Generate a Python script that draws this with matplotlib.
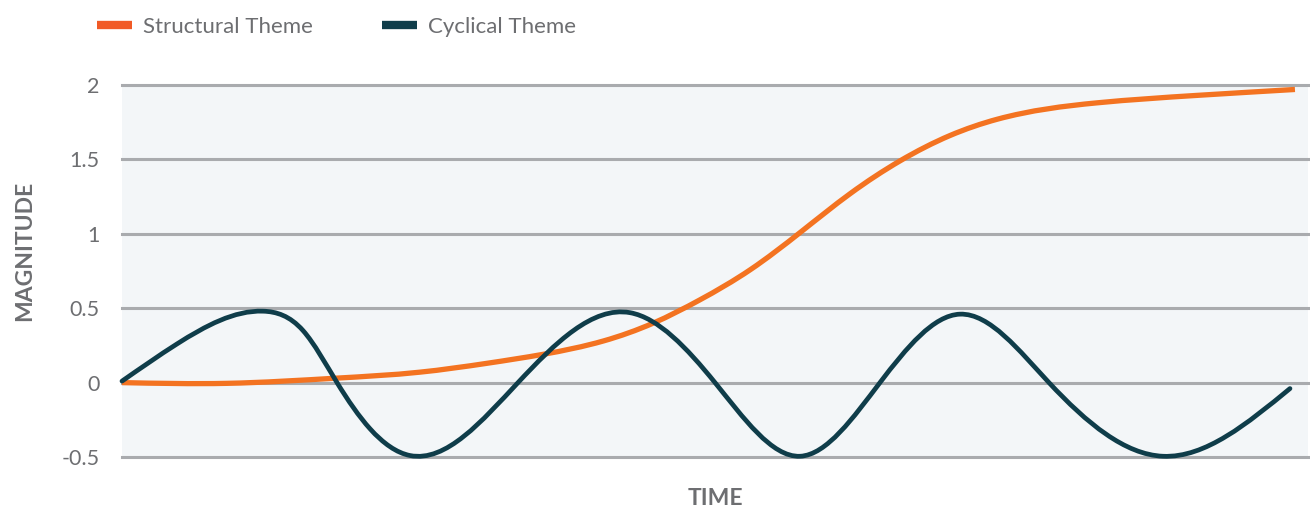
import matplotlib
matplotlib.use("Agg")
import matplotlib.pyplot as plt
from matplotlib.path import Path
from matplotlib.patches import PathPatch
from matplotlib.lines import Line2D
import numpy as np

# Time axis positions (arbitrary units, 0-100) and magnitudes of the two themes
cyc_time = [0, 4.64, 11.89, 15.26, 18.13, 20.91, 24.28, 33.39, 42.83, 50.0, 57.17,
            63.91, 70.66, 78.16, 87.77, 98.48]
cyc_value = [0.01, 0.26, 0.48, 0.35, 0.0, -0.31, -0.49, 0.0, 0.47, 0.0, -0.495,
             0.0, 0.46, 0.0, -0.495, -0.04]

str_time = [0, 8.85, 18.1, 25.1, 30.8, 35.5, 40.6, 44.8, 48.7, 53.0, 57.2,
            61.4, 65.6, 69.8, 73.8, 82.2, 90.6, 98.9]
str_value = [0.0, -0.005, 0.03, 0.07, 0.13, 0.19, 0.28, 0.40, 0.555, 0.76, 1.01,
             1.27, 1.49, 1.66, 1.77, 1.88, 1.93, 1.97]

series_names = ["Structural Theme", "Cyclical Theme"]
y_ticks = [-0.5, 0, 0.5, 1, 1.5, 2]
y_tick_labels = ["-0.5", "0", "0.5", "1", "1.5", "2"]

ORANGE = "#f37321"
ORANGE_KEY = "#f15a26"
TEAL = "#0f3d4a"
TEXT = "#6d6e71"
GRID = "#a9abae"
BG = "#f3f6f8"
FONT = ["Lato", "DejaVu Sans"]


def smooth_path(xs, ys):
    """Natural cubic spline through the points, expressed as a Bezier path."""
    x = np.asarray(xs, float)
    y = np.asarray(ys, float)
    n = len(x)
    h = np.diff(x)
    d = np.diff(y) / h
    # second derivatives with natural end conditions
    A = np.zeros((n, n))
    r = np.zeros(n)
    A[0, 0] = A[-1, -1] = 1.0
    for i in range(1, n - 1):
        A[i, i - 1] = h[i - 1]
        A[i, i] = 2 * (h[i - 1] + h[i])
        A[i, i + 1] = h[i]
        r[i] = 6 * (d[i] - d[i - 1])
    M = np.linalg.solve(A, r)
    verts = [(x[0], y[0])]
    codes = [Path.MOVETO]
    for i in range(n - 1):
        m0 = d[i] - h[i] * (2 * M[i] + M[i + 1]) / 6
        m1 = d[i] + h[i] * (M[i] + 2 * M[i + 1]) / 6
        verts += [(x[i] + h[i] / 3, y[i] + m0 * h[i] / 3),
                  (x[i + 1] - h[i] / 3, y[i + 1] - m1 * h[i] / 3),
                  (x[i + 1], y[i + 1])]
        codes += [Path.CURVE4] * 3
    return Path(verts, codes)


fig = plt.figure(figsize=(13.10, 5.09), dpi=100)
ax = fig.add_axes([122 / 1310, 1 - 457 / 509, (1308 - 122) / 1310, (457 - 85) / 509])
ax.set_facecolor(BG)
ax.set_xlim(0, 100)
ax.set_ylim(-0.5, 2)

for y in y_ticks:
    ax.axhline(y, color=GRID, lw=2.2, zorder=1, clip_on=False)

ax.add_patch(PathPatch(smooth_path(str_time, str_value), fill=False, edgecolor=ORANGE,
                       lw=3.8, capstyle="butt", joinstyle="round", zorder=3, clip_on=False))
ax.add_patch(PathPatch(smooth_path(cyc_time, cyc_value), fill=False, edgecolor=TEAL,
                       lw=3.4, capstyle="round", joinstyle="round", zorder=4, clip_on=False))

for s in ax.spines.values():
    s.set_visible(False)
ax.set_xticks([])
ax.set_yticks(y_ticks)
ax.set_yticklabels(y_tick_labels)
ax.tick_params(axis="y", length=0, pad=16, labelsize=15.5, labelcolor=TEXT)
for lab in ax.get_yticklabels():
    lab.set_fontfamily(FONT)

ax.set_xlabel("TIME", fontsize=16.5, fontweight="bold", color=TEXT, family=FONT, labelpad=22)
ax.set_ylabel("MAGNITUDE", fontsize=16.5, fontweight="bold", color=TEXT, family=FONT)
ax.yaxis.set_label_coords(-0.073, 0.554)

handles = [Line2D([], [], color=ORANGE_KEY, lw=6, solid_capstyle="butt"),
           Line2D([], [], color=TEAL, lw=6, solid_capstyle="butt")]
fig.legend(handles, series_names, loc="center left", bbox_to_anchor=(77 / 1310, 1 - 27 / 509),
           ncol=2, frameon=False, handlelength=1.58, handletextpad=0.5, columnspacing=3.1,
           prop={"family": FONT, "size": 16}, labelcolor=TEXT)

fig.savefig("out.png", dpi=100, facecolor="white")
